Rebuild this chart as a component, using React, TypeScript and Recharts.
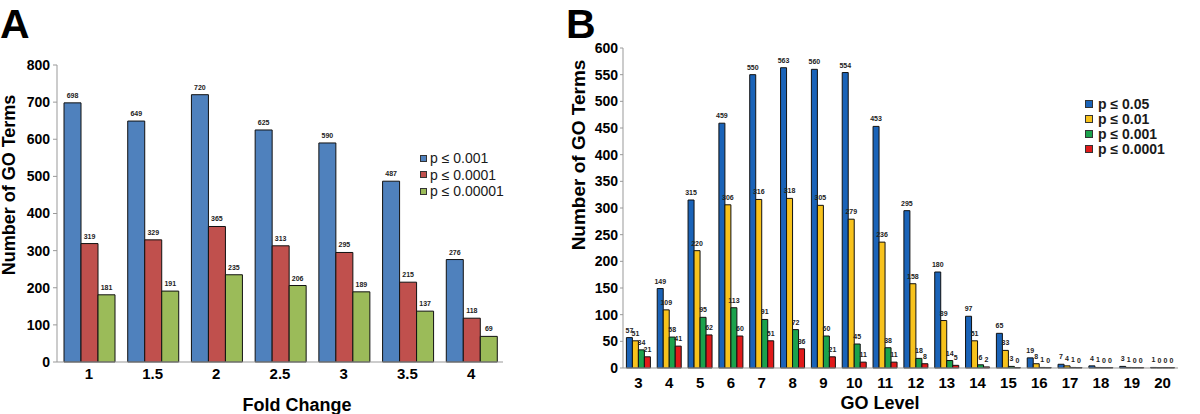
import React from 'react';
import { BarChart, Bar, XAxis, YAxis, LabelList, Legend, Label } from 'recharts';

const FONT = '"Liberation Sans", Arial, Helvetica, sans-serif';

// Panel A
const foldChange = ['1', '1.5', '2', '2.5', '3', '3.5', '4'];
const aP001 = [698, 649, 720, 625, 590, 487, 276];
const aP0001 = [319, 329, 365, 313, 295, 215, 118];
const aP00001 = [181, 191, 235, 206, 189, 137, 69];
const aTicks = [0, 100, 200, 300, 400, 500, 600, 700, 800];
const aSeries = [
  { key: 'p001', name: 'p ≤ 0.001', color: '#4f81bd' },
  { key: 'p0001', name: 'p ≤ 0.0001', color: '#c0504d' },
  { key: 'p00001', name: 'p ≤ 0.00001', color: '#9bbb59' },
];

// Panel B
const goLevels = ['3', '4', '5', '6', '7', '8', '9', '10', '11', '12', '13', '14', '15', '16', '17', '18', '19', '20'];
const bP05 = [57, 149, 315, 459, 550, 563, 560, 554, 453, 295, 180, 97, 65, 19, 7, 4, 3, 1];
const bP01 = [51, 109, 220, 306, 316, 318, 305, 279, 236, 158, 89, 51, 33, 8, 4, 1, 1, 0];
const bP001 = [34, 58, 95, 113, 91, 72, 60, 45, 38, 18, 14, 6, 3, 1, 1, 0, 0, 0];
const bP0001 = [21, 41, 62, 60, 51, 36, 21, 11, 11, 8, 5, 2, 0, 0, 0, 0, 0, 0];
const bTicks = [0, 50, 100, 150, 200, 250, 300, 350, 400, 450, 500, 550, 600];
const bSeries = [
  { key: 'p05', name: 'p ≤ 0.05', color: '#1a63b8' },
  { key: 'p01', name: 'p ≤ 0.01', color: '#f7c21c' },
  { key: 'p001', name: 'p ≤ 0.001', color: '#1ba24c' },
  { key: 'p0001', name: 'p ≤ 0.0001', color: '#e01a1a' },
];

const dataA = foldChange.map((c, i) => ({ cat: c, p001: aP001[i], p0001: aP0001[i], p00001: aP00001[i] }));
const dataB = goLevels.map((c, i) => ({ cat: c, p05: bP05[i], p01: bP01[i], p001: bP001[i], p0001: bP0001[i] }));

const makeXTick = (dy: number, size: number) => (props: any) => (
  <text
    x={props.x}
    y={props.y + dy}
    textAnchor="middle"
    dominantBaseline="central"
    fontFamily={FONT}
    fontWeight="bold"
    fontSize={size}
    fill="#000"
  >
    {props.payload.value}
  </text>
);

const makeValueLabel = (size: number) => (props: any) => {
  const vb = props.viewBox || {};
  const bx = vb.x ?? props.x;
  const bw = vb.width ?? props.width;
  const by = vb.y ?? props.y;
  const h = vb.height ?? props.height ?? 0;
  const top = Math.min(by, by + h);
  return (
    <text x={bx + bw / 2} y={top - 5} textAnchor="middle" fontFamily={FONT} fontWeight="bold" fontSize={size} fill="#222">
      {String(props.value)}
    </text>
  );
};

const zeroMin = (value: any) => (Number(Array.isArray(value) ? value[1] - value[0] : value) === 0 ? 0.4 : 0);

const makeLegend = (series: any[], rowH: number, sq: number, bold: boolean) => () => (
  <div style={{ fontFamily: FONT, fontSize: 14, fontWeight: bold ? 'bold' : 'normal', color: '#1a1a1a' }}>
    {series.map((s) => (
      <div key={s.key} style={{ display: 'flex', alignItems: 'center', height: rowH, whiteSpace: 'nowrap' }}>
        <span
          style={{
            display: 'inline-block',
            width: sq,
            height: sq,
            background: s.color,
            border: '1px solid #333',
            marginRight: bold ? 5 : 3,
            boxSizing: 'border-box',
          }}
        />
        <span>{s.name}</span>
      </div>
    ))}
  </div>
);

const yTitle = (x: number, y: number, size: number, letter: string, lx: number) => () => (
  <g>
    <text x={lx} y={37.5} fontFamily={FONT} fontWeight="bold" fontSize={41} fill="#000">
      {letter}
    </text>
    <text
      x={x}
      y={y}
      transform={`rotate(-90 ${x} ${y})`}
      textAnchor="middle"
      dominantBaseline="central"
      fontFamily={FONT}
      fontWeight="bold"
      fontSize={size}
      fill="#000"
    >
      Number of GO Terms
    </text>
  </g>
);

const xTitle = (text: string, x: number, y: number) => () => (
  <text x={x} y={y} textAnchor="middle" dominantBaseline="central" fontFamily={FONT} fontWeight="bold" fontSize={18} fill="#000">
    {text}
  </text>
);

export default function App() {
  return (
    <div style={{ position: 'absolute', left: 0, top: 0, width: 1200, height: 414, background: '#fff', overflow: 'hidden' }}>
      <div style={{ position: 'absolute', left: 0, top: 0 }}>
        <BarChart width={560} height={414} data={dataA} margin={{ top: 65, right: 57, bottom: 22, left: 7 }} barCategoryGap="11%" barGap={0}>
          <XAxis dataKey="cat" height={30} tickLine={false} tickSize={0} tickMargin={0} axisLine={{ stroke: '#999' }} tick={makeXTick(11, 15)} interval={0}>
            <Label content={xTitle('Fold Change', 297, 405)} />
          </XAxis>
          <YAxis
            width={50}
            domain={[0, 800]}
            ticks={aTicks}
            interval={0}
            tickSize={4}
            tickMargin={3}
            axisLine={{ stroke: '#999' }}
            tickLine={{ stroke: '#999' }}
            tick={{ fill: '#000', fontSize: 14, fontWeight: 'bold', fontFamily: FONT }}
          >
            <Label content={yTitle(9, 185, 18, 'A', 0)} />
          </YAxis>
          <Legend
            layout="vertical"
            align="center"
            verticalAlign="middle"
            content={makeLegend(aSeries, 16.5, 7, false)}
            wrapperStyle={{ left: 420, top: 150, width: 120 }}
          />
          {aSeries.map((s) => (
            <Bar key={s.key} dataKey={s.key} name={s.name} fill={s.color} stroke="#111" strokeWidth={1} isAnimationActive={false}>
              <LabelList dataKey={s.key} content={makeValueLabel(7)} />
            </Bar>
          ))}
        </BarChart>
      </div>

      <div style={{ position: 'absolute', left: 560, top: 0 }}>
        <BarChart width={640} height={414} data={dataB} margin={{ top: 48, right: 22, bottom: 16, left: 13 }} barCategoryGap="11%" barGap={0}>
          <XAxis dataKey="cat" height={30} tickLine={false} tickSize={0} tickMargin={0} axisLine={{ stroke: '#999' }} tick={makeXTick(14, 15)} interval={0}>
            <Label content={xTitle('GO Level', 320, 403)} />
          </XAxis>
          <YAxis
            width={50}
            domain={[0, 600]}
            ticks={bTicks}
            interval={0}
            tickSize={3}
            tickMargin={2}
            axisLine={{ stroke: '#999' }}
            tickLine={{ stroke: '#999' }}
            tick={{ fill: '#000', fontSize: 14, fontWeight: 'bold', fontFamily: FONT }}
          >
            <Label content={yTitle(18, 155, 19, 'B', 6)} />
          </YAxis>
          <Legend
            layout="vertical"
            align="center"
            verticalAlign="middle"
            content={makeLegend(bSeries, 15, 8, true)}
            wrapperStyle={{ left: 525, top: 96, width: 110 }}
          />
          {bSeries.map((s) => (
            <Bar
              key={s.key}
              dataKey={s.key}
              name={s.name}
              fill={s.color}
              stroke="#111"
              strokeWidth={1}
              minPointSize={zeroMin}
              isAnimationActive={false}
            >
              <LabelList dataKey={s.key} content={makeValueLabel(7)} />
            </Bar>
          ))}
        </BarChart>
      </div>
    </div>
  );
}
